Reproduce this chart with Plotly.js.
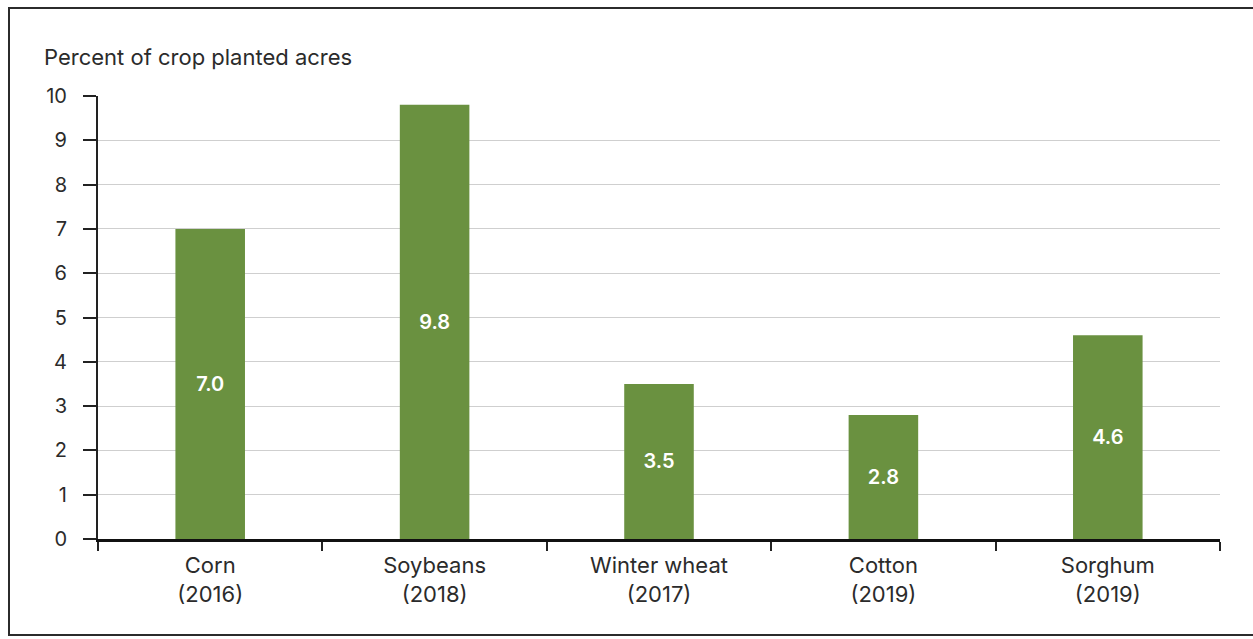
<!DOCTYPE html>
<html>
<head>
<meta charset="utf-8">
<script src="https://cdn.plot.ly/plotly-3.0.1.min.js"></script>
<style>
  html, body { margin: 0; padding: 0; background: #fff; overflow: hidden; }
  #wrap { position: relative; width: 1253px; height: 639px; }
  #chart { width: 1253px; height: 639px; }
  #frame { position: absolute; left: 8px; top: 7px; width: 1260px; height: 629px;
           border: 2px solid #2b2b2b; box-sizing: border-box; pointer-events: none; }
</style>
</head>
<body>
<div id="wrap">
  <div id="chart"></div>
  <div id="frame"></div>
</div>
<script>
// Share of planted acres by crop (survey year in parentheses)
const categories = ['Corn<br>(2016)', 'Soybeans<br>(2018)', 'Winter wheat<br>(2017)', 'Cotton<br>(2019)', 'Sorghum<br>(2019)'];
const shares = [7.0, 9.8, 3.5, 2.8, 4.6];
const yTicks = [0, 1, 2, 3, 4, 5, 6, 7, 8, 9, 10];

const FONT = 'Inter, "Liberation Sans", Arial, sans-serif';
const TEXT = '#2b2b2b';

const trace = {
  type: 'bar',
  x: categories,
  y: shares,
  width: 0.31,
  marker: { color: '#6a9140', line: { width: 0 } },
  text: shares.map(v => v.toFixed(1)),
  textposition: 'inside',
  insidetextanchor: 'middle',
  textangle: 0,
  textfont: { family: FONT, size: 20, color: '#ffffff', weight: 600 },
  hoverinfo: 'x+y'
};

const layout = {
  width: 1253,
  height: 639,
  margin: { l: 98, r: 33, t: 96, b: 100 },
  paper_bgcolor: '#ffffff',
  plot_bgcolor: '#ffffff',
  showlegend: false,
  font: { family: FONT, size: 22, color: TEXT },
  xaxis: {
    type: 'category',
    tickson: 'boundaries',
    ticks: 'outside',
    ticklen: 9,
    tickwidth: 2,
    tickcolor: '#222',
    ticklabelstandoff: 5,
    showline: true,
    linecolor: '#111',
    linewidth: 3,
    showgrid: false,
    tickfont: { family: FONT, size: 22, color: TEXT },
    fixedrange: true
  },
  yaxis: {
    range: [0, 10],
    tickvals: yTicks,
    ticktext: yTicks.map(String),
    ticks: 'outside',
    ticklen: 13,
    tickwidth: 2,
    tickcolor: '#222',
    ticklabelstandoff: 12,
    showline: true,
    linecolor: '#222',
    linewidth: 2,
    showgrid: true,
    gridcolor: '#cfcfcf',
    gridwidth: 1,
    zeroline: false,
    tickfont: { family: FONT, size: 20, color: TEXT },
    fixedrange: true
  },
  annotations: [{
    text: 'Percent of crop planted acres',
    xref: 'paper', yref: 'paper',
    x: -0.0495, y: 1.0,
    xanchor: 'left', yanchor: 'bottom',
    yshift: 24,
    showarrow: false,
    font: { family: FONT, size: 22, color: TEXT }
  }]
};

Plotly.newPlot('chart', [trace], layout, { displayModeBar: false, staticPlot: true });
</script>
</body>
</html>
